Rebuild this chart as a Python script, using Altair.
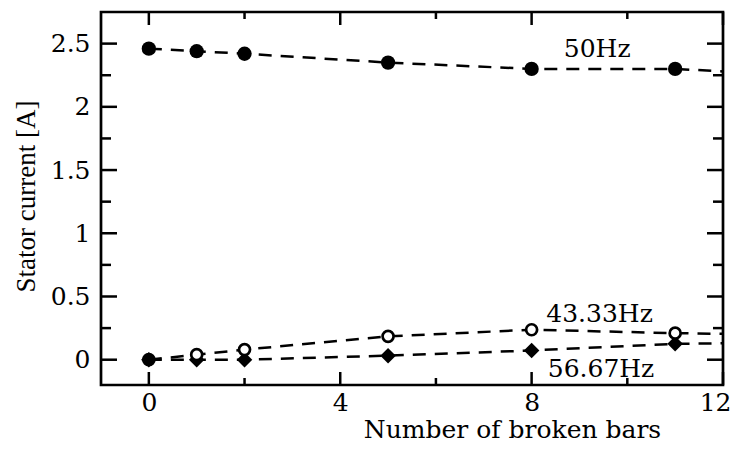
import altair as alt
import pandas as pd

# ---- data ----
bars_pts = [0, 1, 2, 5, 8, 11]
i50_pts = [2.46, 2.44, 2.42, 2.35, 2.30, 2.30]
i43_pts = [0.0, 0.04, 0.08, 0.185, 0.237, 0.21]
i57_pts = [0.0, 0.0, 0.0, 0.032, 0.073, 0.126]

# dashed curves continue to the right frame (x = 12)
bars_line = [0, 1, 2, 5, 8, 11, 12]
i50_line = [2.46, 2.44, 2.42, 2.35, 2.30, 2.30, 2.28]
i43_line = [0.0, 0.04, 0.08, 0.185, 0.237, 0.21, 0.205]
i57_line = [0.0, 0.0, 0.0, 0.032, 0.073, 0.126, 0.13]

series_names = ["50Hz", "43.33Hz", "56.67Hz"]
label_x = [9.37, 9.42, 9.45]
label_y = [2.46, 0.362, -0.077]

x_major = [0, 4, 8, 12]
x_minor = [2, 6, 10]
y_major = [0, 0.5, 1, 1.5, 2, 2.5]
y_minor = [0.25, 0.75, 1.25, 1.75, 2.25]

# ---- layout / style ----
W, H = 622, 373
FONT = "DejaVu Serif"
FS = 25
TFONT = "Liberation Serif"
TFS = 27

xs = alt.Scale(domain=[-1, 12], nice=False, zero=False)
ys = alt.Scale(domain=[-0.2, 2.75], nice=False, zero=False)

xaxis = alt.Axis(values=x_major, ticks=False, tickSize=0, domain=False, grid=False,
                 labelFont=FONT, labelFontSize=FS, labelColor="black", labelPadding=5,
                 labelFlush=True, labelFlushOffset=8,
                 title="Number of broken bars", titleFont=FONT, titleFontSize=FS,
                 titleFontWeight="normal", titleColor="black",
                 titleX=411, titleY=52, titleAlign="center", titleBaseline="alphabetic")
yaxis = alt.Axis(values=y_major, ticks=False, tickSize=0, domain=False, grid=False,
                 labelFont=FONT, labelFontSize=FS, labelColor="black", labelPadding=11,
                 labelExpr="'' + datum.value", labelFlush=False,
                 title="Stator current [A]", titleFont=TFONT, titleFontSize=TFS,
                 titleFontWeight="normal", titleColor="black",
                 titleX=-75, titleY=184, titleAlign="center", titleBaseline="middle")


def X(f):
    return alt.X(f, type="quantitative", scale=xs, axis=xaxis)


def Y(f):
    return alt.Y(f, type="quantitative", scale=ys, axis=yaxis)


line_df = pd.DataFrame({
    "x": bars_line * 3,
    "y": i50_line + i43_line + i57_line,
    "s": [series_names[0]] * len(bars_line) + [series_names[1]] * len(bars_line)
         + [series_names[2]] * len(bars_line),
})
pts50 = pd.DataFrame({"x": bars_pts, "y": i50_pts})
pts43 = pd.DataFrame({"x": bars_pts, "y": i43_pts})
pts57 = pd.DataFrame({"x": bars_pts, "y": i57_pts})
lab_df = pd.DataFrame({"x": label_x, "y": label_y, "t": series_names})

lines = alt.Chart(line_df).mark_line(color="black", strokeWidth=2.5, strokeDash=[13, 9]).encode(
    x=X("x"), y=Y("y"), detail="s:N", order="x:Q")
diam = alt.Chart(pts57).mark_point(shape="diamond", filled=True, color="black", size=240,
                                   opacity=1).encode(x=X("x"), y=Y("y"))
# the healthy-machine point (0 broken bars) is drawn as a filled dot in the reference
opn = alt.Chart(pts43).mark_point(shape="circle", filled=True, stroke="black",
                                  strokeWidth=2.7, size=121, opacity=1).encode(
    x=X("x"), y=Y("y"),
    fill=alt.condition(alt.datum.x == 0, alt.value("black"), alt.value("white")))
fil = alt.Chart(pts50).mark_point(shape="circle", filled=True, color="black", size=205,
                                  opacity=1).encode(x=X("x"), y=Y("y"))
labels = alt.Chart(lab_df).mark_text(font=FONT, fontSize=FS, color="black", align="center",
                                     baseline="middle").encode(x=X("x"), y=Y("y"), text="t:N")

tick_layers = []
TW = 2.5
for vals, ln in ((x_major, 13), (x_minor, 7)):
    d = pd.DataFrame({"v": vals})
    tick_layers.append(alt.Chart(d).mark_rule(color="black", strokeWidth=TW).encode(
        x=X("v"), y=alt.value(H), y2=alt.value(H - ln)))
    tick_layers.append(alt.Chart(d).mark_rule(color="black", strokeWidth=TW).encode(
        x=X("v"), y=alt.value(0), y2=alt.value(ln)))
for vals, ln in ((y_major, 16), (y_minor, 10)):
    d = pd.DataFrame({"v": vals})
    tick_layers.append(alt.Chart(d).mark_rule(color="black", strokeWidth=TW).encode(
        y=Y("v"), x=alt.value(0), x2=alt.value(ln)))
    tick_layers.append(alt.Chart(d).mark_rule(color="black", strokeWidth=TW).encode(
        y=Y("v"), x=alt.value(W), x2=alt.value(W - ln)))

chart = alt.layer(lines, *tick_layers, diam, opn, fil, labels).properties(
    width=W, height=H,
    autosize=alt.AutoSizeParams(type="none"),
    padding={"left": 93, "top": 4, "right": 9, "bottom": 58},
    background="white",
).configure_view(stroke="black", strokeWidth=2.7)

chart.save("out.html", embed_options={"renderer": "svg", "actions": False})
